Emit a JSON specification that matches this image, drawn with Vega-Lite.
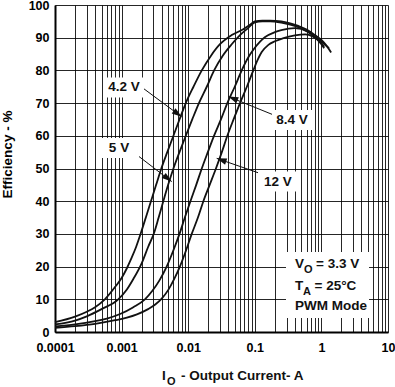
{
  "$schema": "https://vega.github.io/schema/vega-lite/v6.json",
  "width": 333,
  "height": 327,
  "autosize": "none",
  "padding": {"left": 55, "top": 5, "right": 7, "bottom": 55},
  "background": "white",
  "config": {"font": "Liberation Sans", "view": {"stroke": null}},
  "resolve": {"axis": {"x": "independent", "y": "independent"}},
  "datasets": {
    "curves": [
      {"s": "4.2 V", "i": 0.0001, "e": 3.0}, {"s": "4.2 V", "i": 0.0002, "e": 4.7}, {"s": "4.2 V", "i": 0.0003, "e": 6.2}, {"s": "4.2 V", "i": 0.0004, "e": 7.6}, {"s": "4.2 V", "i": 0.00056, "e": 10}, {"s": "4.2 V", "i": 0.0008, "e": 13.8}, {"s": "4.2 V", "i": 0.001, "e": 16.5}, {"s": "4.2 V", "i": 0.0012, "e": 19.5}, {"s": "4.2 V", "i": 0.0014, "e": 22.5}, {"s": "4.2 V", "i": 0.00165, "e": 26}, {"s": "4.2 V", "i": 0.002, "e": 31}, {"s": "4.2 V", "i": 0.00235, "e": 35.5}, {"s": "4.2 V", "i": 0.00276, "e": 40}, {"s": "4.2 V", "i": 0.0033, "e": 45}, {"s": "4.2 V", "i": 0.00395, "e": 50}, {"s": "4.2 V", "i": 0.00485, "e": 55}, {"s": "4.2 V", "i": 0.006, "e": 60}, {"s": "4.2 V", "i": 0.0074, "e": 65}, {"s": "4.2 V", "i": 0.0092, "e": 70}, {"s": "4.2 V", "i": 0.012, "e": 75}, {"s": "4.2 V", "i": 0.016, "e": 80}, {"s": "4.2 V", "i": 0.022, "e": 84.5}, {"s": "4.2 V", "i": 0.03, "e": 88}, {"s": "4.2 V", "i": 0.045, "e": 90.8}, {"s": "4.2 V", "i": 0.067, "e": 92.6}, {"s": "4.2 V", "i": 0.085, "e": 94}, {"s": "4.2 V", "i": 0.1, "e": 95}, {"s": "4.2 V", "i": 0.13, "e": 95.2}, {"s": "4.2 V", "i": 0.17, "e": 95.2}, {"s": "4.2 V", "i": 0.25, "e": 95}, {"s": "4.2 V", "i": 0.34, "e": 94.4}, {"s": "4.2 V", "i": 0.45, "e": 93.6}, {"s": "4.2 V", "i": 0.6, "e": 92.5}, {"s": "4.2 V", "i": 0.8, "e": 90.8}, {"s": "4.2 V", "i": 1.0, "e": 89.3}, {"s": "4.2 V", "i": 1.2, "e": 87.5}, {"s": "4.2 V", "i": 1.4, "e": 85.5},
      {"s": "5 V", "i": 0.0001, "e": 2.3}, {"s": "5 V", "i": 0.0002, "e": 3.5}, {"s": "5 V", "i": 0.0003, "e": 4.8}, {"s": "5 V", "i": 0.0005, "e": 7}, {"s": "5 V", "i": 0.00089, "e": 10}, {"s": "5 V", "i": 0.0012, "e": 13}, {"s": "5 V", "i": 0.0015, "e": 16.2}, {"s": "5 V", "i": 0.002, "e": 21}, {"s": "5 V", "i": 0.0025, "e": 26}, {"s": "5 V", "i": 0.0031, "e": 30.5}, {"s": "5 V", "i": 0.0036, "e": 35}, {"s": "5 V", "i": 0.0043, "e": 40.5}, {"s": "5 V", "i": 0.005, "e": 45}, {"s": "5 V", "i": 0.006, "e": 50}, {"s": "5 V", "i": 0.0074, "e": 55}, {"s": "5 V", "i": 0.0092, "e": 60}, {"s": "5 V", "i": 0.0115, "e": 65}, {"s": "5 V", "i": 0.0145, "e": 70}, {"s": "5 V", "i": 0.019, "e": 75}, {"s": "5 V", "i": 0.0245, "e": 80}, {"s": "5 V", "i": 0.033, "e": 84.5}, {"s": "5 V", "i": 0.045, "e": 88}, {"s": "5 V", "i": 0.06, "e": 90.8}, {"s": "5 V", "i": 0.08, "e": 93}, {"s": "5 V", "i": 0.1, "e": 94.7}, {"s": "5 V", "i": 0.13, "e": 95}, {"s": "5 V", "i": 0.17, "e": 95}, {"s": "5 V", "i": 0.25, "e": 94.6}, {"s": "5 V", "i": 0.34, "e": 94}, {"s": "5 V", "i": 0.45, "e": 93.2}, {"s": "5 V", "i": 0.6, "e": 92}, {"s": "5 V", "i": 0.8, "e": 90.3}, {"s": "5 V", "i": 1.0, "e": 88.8}, {"s": "5 V", "i": 1.3, "e": 86.8},
      {"s": "8.4 V", "i": 0.0001, "e": 1.7}, {"s": "8.4 V", "i": 0.0002, "e": 2.3}, {"s": "8.4 V", "i": 0.0004, "e": 3.3}, {"s": "8.4 V", "i": 0.0006, "e": 4.1}, {"s": "8.4 V", "i": 0.00095, "e": 5.5}, {"s": "8.4 V", "i": 0.0015, "e": 7.6}, {"s": "8.4 V", "i": 0.00224, "e": 10}, {"s": "8.4 V", "i": 0.0029, "e": 12.6}, {"s": "8.4 V", "i": 0.0037, "e": 15.8}, {"s": "8.4 V", "i": 0.00475, "e": 20}, {"s": "8.4 V", "i": 0.006, "e": 25}, {"s": "8.4 V", "i": 0.0074, "e": 30}, {"s": "8.4 V", "i": 0.0089, "e": 35}, {"s": "8.4 V", "i": 0.0108, "e": 40}, {"s": "8.4 V", "i": 0.0132, "e": 45}, {"s": "8.4 V", "i": 0.016, "e": 50}, {"s": "8.4 V", "i": 0.0197, "e": 55}, {"s": "8.4 V", "i": 0.0244, "e": 60}, {"s": "8.4 V", "i": 0.031, "e": 65}, {"s": "8.4 V", "i": 0.0387, "e": 70}, {"s": "8.4 V", "i": 0.05, "e": 75}, {"s": "8.4 V", "i": 0.0636, "e": 80}, {"s": "8.4 V", "i": 0.08, "e": 84}, {"s": "8.4 V", "i": 0.095, "e": 86.3}, {"s": "8.4 V", "i": 0.12, "e": 88.8}, {"s": "8.4 V", "i": 0.143, "e": 90.2}, {"s": "8.4 V", "i": 0.2, "e": 91.7}, {"s": "8.4 V", "i": 0.25, "e": 92.3}, {"s": "8.4 V", "i": 0.4, "e": 92.9}, {"s": "8.4 V", "i": 0.625, "e": 91.9}, {"s": "8.4 V", "i": 0.8, "e": 90.2}, {"s": "8.4 V", "i": 1.0, "e": 88}, {"s": "8.4 V", "i": 1.1, "e": 86.8},
      {"s": "12 V", "i": 0.0001, "e": 1.3}, {"s": "12 V", "i": 0.0002, "e": 1.8}, {"s": "12 V", "i": 0.0004, "e": 2.5}, {"s": "12 V", "i": 0.0008, "e": 3.6}, {"s": "12 V", "i": 0.0012, "e": 4.4}, {"s": "12 V", "i": 0.0017, "e": 5.4}, {"s": "12 V", "i": 0.0025, "e": 7}, {"s": "12 V", "i": 0.0032, "e": 8.4}, {"s": "12 V", "i": 0.004, "e": 10.2}, {"s": "12 V", "i": 0.005, "e": 12.8}, {"s": "12 V", "i": 0.0062, "e": 16.3}, {"s": "12 V", "i": 0.0075, "e": 20}, {"s": "12 V", "i": 0.0093, "e": 25}, {"s": "12 V", "i": 0.0113, "e": 30}, {"s": "12 V", "i": 0.014, "e": 35}, {"s": "12 V", "i": 0.0169, "e": 40}, {"s": "12 V", "i": 0.021, "e": 45}, {"s": "12 V", "i": 0.0261, "e": 50}, {"s": "12 V", "i": 0.032, "e": 55}, {"s": "12 V", "i": 0.0387, "e": 60}, {"s": "12 V", "i": 0.048, "e": 65}, {"s": "12 V", "i": 0.06, "e": 70}, {"s": "12 V", "i": 0.076, "e": 75}, {"s": "12 V", "i": 0.095, "e": 80}, {"s": "12 V", "i": 0.112, "e": 83.5}, {"s": "12 V", "i": 0.127, "e": 85.6}, {"s": "12 V", "i": 0.16, "e": 87.8}, {"s": "12 V", "i": 0.2, "e": 88.9}, {"s": "12 V", "i": 0.27, "e": 89.9}, {"s": "12 V", "i": 0.4, "e": 90.7}, {"s": "12 V", "i": 0.57, "e": 91}, {"s": "12 V", "i": 0.75, "e": 90.3}, {"s": "12 V", "i": 1.0, "e": 88.3}, {"s": "12 V", "i": 1.1, "e": 87.2}
    ],
    "notes": [
      {"label": "4.2 V", "lx": 0.001086, "ly": 74.8, "sx": 0.00212, "sy": 74.5, "tx": 0.00798, "ty": 65.8},
      {"label": "5 V", "lx": 0.000914, "ly": 56.3, "sx": 0.00159, "sy": 54.6, "tx": 0.00565, "ty": 46.0},
      {"label": "8.4 V", "lx": 0.362, "ly": 64.8, "sx": 0.19, "sy": 66.4, "tx": 0.04, "ty": 72.0},
      {"label": "12 V", "lx": 0.223, "ly": 46.0, "sx": 0.1197, "sy": 48.5, "tx": 0.0268, "ty": 53.1}
    ]
  },
  "layer": [
    {
      "data": {"name": "curves"},
      "mark": {"type": "line", "color": "#111", "strokeWidth": 1.8, "interpolate": "monotone"},
      "encoding": {
        "x": {
          "field": "i", "type": "quantitative",
          "scale": {"type": "log", "domain": [0.0001, 10]},
          "axis": {
            "values": [0.0001,0.0002,0.0003,0.0004,0.0005,0.0006,0.0007,0.0008,0.0009,0.001,0.002,0.003,0.004,0.005,0.006,0.007,0.008,0.009,0.01,0.02,0.03,0.04,0.05,0.06,0.07,0.08,0.09,0.1,0.2,0.3,0.4,0.5,0.6,0.7,0.8,0.9,1,2,3,4,5,6,7,8,9,10],
            "grid": true, "gridColor": "#000", "gridWidth": 1, "gridOpacity": 0.85,
            "ticks": false, "tickSize": 0,
            "domainColor": "#000", "domainWidth": 2,
            "labelExpr": "abs(log(datum.value)/LN10 - round(log(datum.value)/LN10)) < 0.001 ? format(datum.value, '~g') : ''",
            "labelFont": "Liberation Sans", "labelFontSize": 12.5, "labelFontWeight": "bold", "labelColor": "#000",
            "labelPadding": 9, "labelFlush": false, "labelOverlap": false, "labelBound": false,
            "title": null
          }
        },
        "y": {
          "field": "e", "type": "quantitative",
          "scale": {"domain": [0, 100], "nice": false},
          "axis": {
            "values": [0,10,20,30,40,50,60,70,80,90,100],
            "grid": true, "gridColor": "#000", "gridWidth": 1, "gridOpacity": 0.85,
            "ticks": false, "tickSize": 0,
            "domainColor": "#000", "domainWidth": 2,
            "labelFont": "Liberation Sans", "labelFontSize": 12.5, "labelFontWeight": "bold", "labelColor": "#000",
            "labelPadding": 6, "labelOverlap": false, "labelFlush": false, "labelBound": false,
            "title": "Efficiency - %",
            "titleFont": "Liberation Sans", "titleFontSize": 13.5, "titleFontWeight": "bold", "titleColor": "#000",
            "titleX": -44, "titleY": 149, "titleBaseline": "alphabetic", "titleAngle": 270
          }
        },
        "detail": {"field": "s"}
      }
    },
    {
      "data": {"name": "notes"},
      "mark": {"type": "rule", "color": "#111", "strokeWidth": 1},
      "encoding": {
        "x": {"field": "sx", "type": "quantitative", "scale": {"type": "log", "domain": [0.0001, 10]}, "axis": null},
        "y": {"field": "sy", "type": "quantitative", "scale": {"domain": [0, 100], "nice": false}, "axis": null},
        "x2": {"field": "tx"},
        "y2": {"field": "ty"}
      }
    },
    {
      "data": {"name": "notes"},
      "transform": [{"filter": "datum.label === '4.2 V'"}],
      "mark": {"type": "point", "shape": "M0,0 L-2,-0.65 L-2,0.65 Z", "filled": true, "color": "#111", "opacity": 1, "size": 100, "angle": 36.5},
      "encoding": {
        "x": {"field": "tx", "type": "quantitative", "scale": {"type": "log", "domain": [0.0001, 10]}, "axis": null},
        "y": {"field": "ty", "type": "quantitative", "scale": {"domain": [0, 100], "nice": false}, "axis": null}
      }
    },
    {
      "data": {"name": "notes"},
      "transform": [{"filter": "datum.label === '5 V'"}],
      "mark": {"type": "point", "shape": "M0,0 L-2,-0.65 L-2,0.65 Z", "filled": true, "color": "#111", "opacity": 1, "size": 100, "angle": 37.7},
      "encoding": {
        "x": {"field": "tx", "type": "quantitative", "scale": {"type": "log", "domain": [0.0001, 10]}, "axis": null},
        "y": {"field": "ty", "type": "quantitative", "scale": {"domain": [0, 100], "nice": false}, "axis": null}
      }
    },
    {
      "data": {"name": "notes"},
      "transform": [{"filter": "datum.label === '8.4 V'"}],
      "mark": {"type": "point", "shape": "M0,0 L-2,-0.65 L-2,0.65 Z", "filled": true, "color": "#111", "opacity": 1, "size": 100, "angle": 202.1},
      "encoding": {
        "x": {"field": "tx", "type": "quantitative", "scale": {"type": "log", "domain": [0.0001, 10]}, "axis": null},
        "y": {"field": "ty", "type": "quantitative", "scale": {"domain": [0, 100], "nice": false}, "axis": null}
      }
    },
    {
      "data": {"name": "notes"},
      "transform": [{"filter": "datum.label === '12 V'"}],
      "mark": {"type": "point", "shape": "M0,0 L-2,-0.65 L-2,0.65 Z", "filled": true, "color": "#111", "opacity": 1, "size": 100, "angle": 199.1},
      "encoding": {
        "x": {"field": "tx", "type": "quantitative", "scale": {"type": "log", "domain": [0.0001, 10]}, "axis": null},
        "y": {"field": "ty", "type": "quantitative", "scale": {"domain": [0, 100], "nice": false}, "axis": null}
      }
    },
    {
      "data": {"name": "notes"},
      "mark": {"type": "point", "shape": "M-1,-0.5 L1,-0.5 L1,0.5 L-1,0.5 Z", "filled": true, "color": "white", "opacity": 1, "size": 1600, "strokeWidth": 0},
      "encoding": {
        "x": {"field": "lx", "type": "quantitative", "scale": {"type": "log", "domain": [0.0001, 10]}, "axis": null},
        "y": {"field": "ly", "type": "quantitative", "scale": {"domain": [0, 100], "nice": false}, "axis": null}
      }
    },
    {
      "data": {"name": "notes"},
      "mark": {"type": "text", "font": "Liberation Sans", "fontWeight": "bold", "fontSize": 13.5, "color": "#111", "align": "center", "baseline": "middle"},
      "encoding": {
        "x": {"field": "lx", "type": "quantitative", "scale": {"type": "log", "domain": [0.0001, 10]}, "axis": null},
        "y": {"field": "ly", "type": "quantitative", "scale": {"domain": [0, 100], "nice": false}, "axis": null},
        "text": {"field": "label"}
      }
    },
    {
      "data": {"values": [{}]},
      "mark": {"type": "rect", "color": "white", "opacity": 1},
      "encoding": {
        "x": {"datum": 0.294, "type": "quantitative", "scale": {"type": "log", "domain": [0.0001, 10]}, "axis": null},
        "x2": {"datum": 5.19},
        "y": {"datum": 24.5, "type": "quantitative", "scale": {"domain": [0, 100], "nice": false}, "axis": null},
        "y2": {"datum": 4.3}
      }
    },
    {
      "data": {"values": [{}]},
      "mark": {"type": "text", "font": "Liberation Sans", "fontWeight": "bold", "fontSize": 13.5, "color": "#111", "align": "left", "baseline": "alphabetic"},
      "encoding": {
        "x": {"datum": 0.402, "type": "quantitative", "scale": {"type": "log", "domain": [0.0001, 10]}, "axis": null},
        "y": {"datum": 19.5, "type": "quantitative", "scale": {"domain": [0, 100], "nice": false}, "axis": null},
        "text": {"value": "V"}
      }
    },
    {
      "data": {"values": [{}]},
      "mark": {"type": "text", "font": "Liberation Sans", "fontWeight": "bold", "fontSize": 11, "color": "#111", "align": "left", "baseline": "alphabetic", "dx": 9, "dy": 4.5},
      "encoding": {
        "x": {"datum": 0.402, "type": "quantitative", "scale": {"type": "log", "domain": [0.0001, 10]}, "axis": null},
        "y": {"datum": 19.5, "type": "quantitative", "scale": {"domain": [0, 100], "nice": false}, "axis": null},
        "text": {"value": "O"}
      }
    },
    {
      "data": {"values": [{}]},
      "mark": {"type": "text", "font": "Liberation Sans", "fontWeight": "bold", "fontSize": 13.5, "color": "#111", "align": "left", "baseline": "alphabetic", "dx": 21},
      "encoding": {
        "x": {"datum": 0.402, "type": "quantitative", "scale": {"type": "log", "domain": [0.0001, 10]}, "axis": null},
        "y": {"datum": 19.5, "type": "quantitative", "scale": {"domain": [0, 100], "nice": false}, "axis": null},
        "text": {"value": "= 3.3 V"}
      }
    },
    {
      "data": {"values": [{}]},
      "mark": {"type": "text", "font": "Liberation Sans", "fontWeight": "bold", "fontSize": 13.5, "color": "#111", "align": "left", "baseline": "alphabetic"},
      "encoding": {
        "x": {"datum": 0.402, "type": "quantitative", "scale": {"type": "log", "domain": [0.0001, 10]}, "axis": null},
        "y": {"datum": 12.8, "type": "quantitative", "scale": {"domain": [0, 100], "nice": false}, "axis": null},
        "text": {"value": "T"}
      }
    },
    {
      "data": {"values": [{}]},
      "mark": {"type": "text", "font": "Liberation Sans", "fontWeight": "bold", "fontSize": 11, "color": "#111", "align": "left", "baseline": "alphabetic", "dx": 8, "dy": 4.5},
      "encoding": {
        "x": {"datum": 0.402, "type": "quantitative", "scale": {"type": "log", "domain": [0.0001, 10]}, "axis": null},
        "y": {"datum": 12.8, "type": "quantitative", "scale": {"domain": [0, 100], "nice": false}, "axis": null},
        "text": {"value": "A"}
      }
    },
    {
      "data": {"values": [{}]},
      "mark": {"type": "text", "font": "Liberation Sans", "fontWeight": "bold", "fontSize": 13.5, "color": "#111", "align": "left", "baseline": "alphabetic", "dx": 19.5},
      "encoding": {
        "x": {"datum": 0.402, "type": "quantitative", "scale": {"type": "log", "domain": [0.0001, 10]}, "axis": null},
        "y": {"datum": 12.8, "type": "quantitative", "scale": {"domain": [0, 100], "nice": false}, "axis": null},
        "text": {"value": "= 25°C"}
      }
    },
    {
      "data": {"values": [{}]},
      "mark": {"type": "text", "font": "Liberation Sans", "fontWeight": "bold", "fontSize": 13.5, "color": "#111", "align": "left", "baseline": "alphabetic"},
      "encoding": {
        "x": {"datum": 0.402, "type": "quantitative", "scale": {"type": "log", "domain": [0.0001, 10]}, "axis": null},
        "y": {"datum": 6.7, "type": "quantitative", "scale": {"domain": [0, 100], "nice": false}, "axis": null},
        "text": {"value": "PWM Mode"}
      }
    },
    {
      "data": {"values": [{}]},
      "mark": {"type": "text", "font": "Liberation Sans", "fontWeight": "bold", "fontSize": 13.5, "color": "#111", "align": "left", "baseline": "alphabetic"},
      "encoding": {
        "x": {"datum": 0.00405, "type": "quantitative", "scale": {"type": "log", "domain": [0.0001, 10]}, "axis": null},
        "y": {"datum": -14.7, "type": "quantitative", "scale": {"domain": [0, 100], "nice": false}, "axis": null},
        "text": {"value": "I"}
      }
    },
    {
      "data": {"values": [{}]},
      "mark": {"type": "text", "font": "Liberation Sans", "fontWeight": "bold", "fontSize": 11, "color": "#111", "align": "left", "baseline": "alphabetic", "dx": 5, "dy": 4.5},
      "encoding": {
        "x": {"datum": 0.00405, "type": "quantitative", "scale": {"type": "log", "domain": [0.0001, 10]}, "axis": null},
        "y": {"datum": -14.7, "type": "quantitative", "scale": {"domain": [0, 100], "nice": false}, "axis": null},
        "text": {"value": "O"}
      }
    },
    {
      "data": {"values": [{}]},
      "mark": {"type": "text", "font": "Liberation Sans", "fontWeight": "bold", "fontSize": 13.5, "color": "#111", "align": "left", "baseline": "alphabetic", "dx": 19},
      "encoding": {
        "x": {"datum": 0.00405, "type": "quantitative", "scale": {"type": "log", "domain": [0.0001, 10]}, "axis": null},
        "y": {"datum": -14.7, "type": "quantitative", "scale": {"domain": [0, 100], "nice": false}, "axis": null},
        "text": {"value": "- Output Current- A"}
      }
    }
  ]
}
